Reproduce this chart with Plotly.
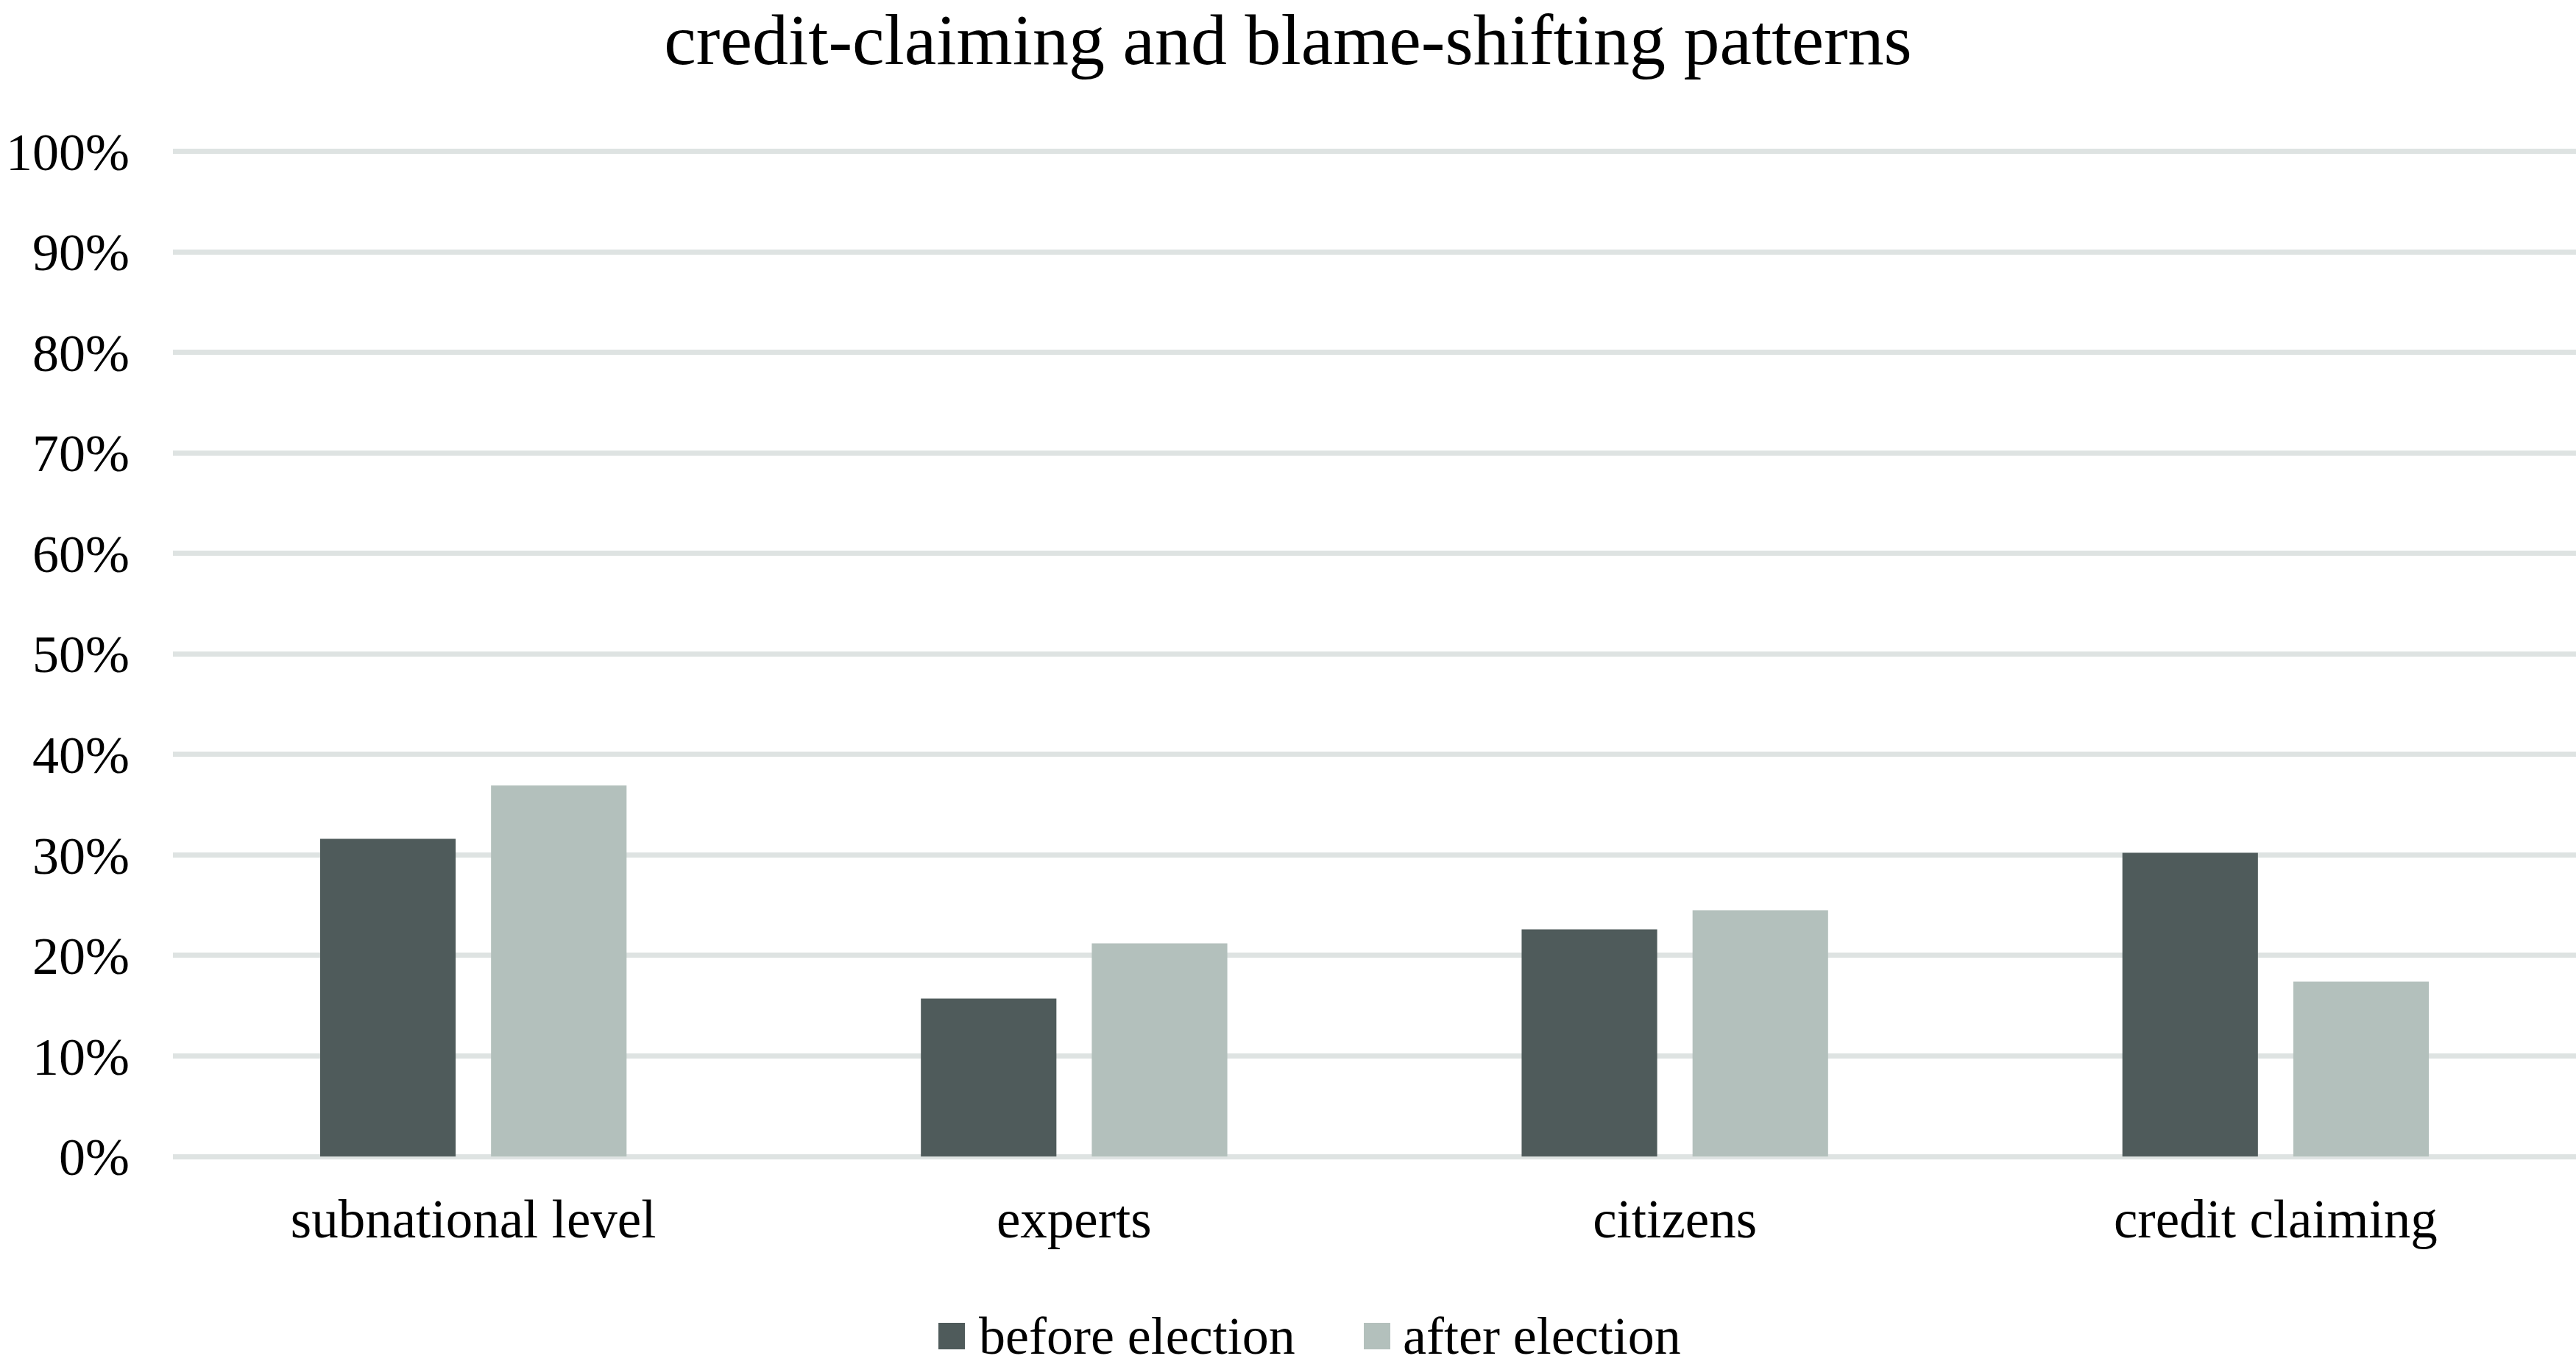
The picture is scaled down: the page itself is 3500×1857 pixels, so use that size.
import plotly.graph_objects as go

categories = ["subnational level", "experts", "citizens", "credit claiming"]
before_election = [0.316, 0.157, 0.226, 0.302]
after_election = [0.369, 0.212, 0.245, 0.174]
series_names = ["before election", "after election"]
series_colors = ["#4F5B5B", "#B3C0BC"]
y_ticks = [0, 0.1, 0.2, 0.3, 0.4, 0.5, 0.6, 0.7, 0.8, 0.9, 1.0]
y_tick_labels = ["0%", "10%", "20%", "30%", "40%", "50%", "60%", "70%", "80%", "90%", "100%"]

FONT = "Liberation Serif"
GRID = "#DEE3E2"
W, H = 3500, 1857
L, R, T, B = 235, 0, 205, 286
Y_TOP = 1.004  # small headroom so the 100% gridline is drawn

fig = go.Figure()
for vals, name, col in zip([before_election, after_election], series_names, series_colors):
    fig.add_trace(go.Bar(x=categories, y=vals, name=name, showlegend=False,
                         marker=dict(color=col, line=dict(width=0))))

plot_h = H - T - B
t_adj = T - (Y_TOP - 1.0) * plot_h / 1.0


def px_to_paper_x(px):
    return (px - L) / (W - L - R)


def px_to_paper_y(py):
    return (H - B - py) / (H - B - t_adj)


# custom legend (large square swatches as in the reference)
legend_items = [(1275, 1328), (1853, 1904)]
sw = 36
ly = 1815
shapes = []
annotations = []
for (sx, tx), name, col in zip(legend_items, series_names, series_colors):
    shapes.append(dict(type="rect", xref="paper", yref="paper",
                       x0=px_to_paper_x(sx), x1=px_to_paper_x(sx + sw),
                       y0=px_to_paper_y(ly + sw / 2), y1=px_to_paper_y(ly - sw / 2),
                       fillcolor=col, line=dict(width=0)))
    annotations.append(dict(text=name, xref="paper", yref="paper",
                            x=px_to_paper_x(tx), y=px_to_paper_y(ly),
                            xanchor="left", yanchor="middle", showarrow=False,
                            font=dict(family=FONT, size=72, color="#000000")))

fig.update_layout(
    width=W, height=H,
    margin=dict(l=L, r=R, t=t_adj, b=B, autoexpand=False),
    paper_bgcolor="white", plot_bgcolor="white",
    barmode="group", bargap=0.431, bargroupgap=0.207,
    font=dict(family=FONT, color="#000000", size=72),
    title=dict(text="credit-claiming and blame-shifting patterns",
               font=dict(family=FONT, size=98, color="#000000"),
               x=0.5, xanchor="center", y=1 - 53 / H, yanchor="middle"),
    showlegend=False,
    shapes=shapes,
    annotations=annotations,
)
fig.update_xaxes(showgrid=False, showline=False, zeroline=False, ticks="",
                 tickfont=dict(family=FONT, size=73, color="#000000"),
                 ticklabelstandoff=36)
fig.update_yaxes(range=[0, Y_TOP], tickvals=y_ticks, ticktext=y_tick_labels,
                 showgrid=True, gridcolor=GRID, gridwidth=7,
                 zeroline=True, zerolinecolor=GRID, zerolinewidth=7,
                 showline=False, ticks="",
                 tickfont=dict(family=FONT, size=72, color="#000000"),
                 ticklabelstandoff=58)

fig.write_html("out.html")
